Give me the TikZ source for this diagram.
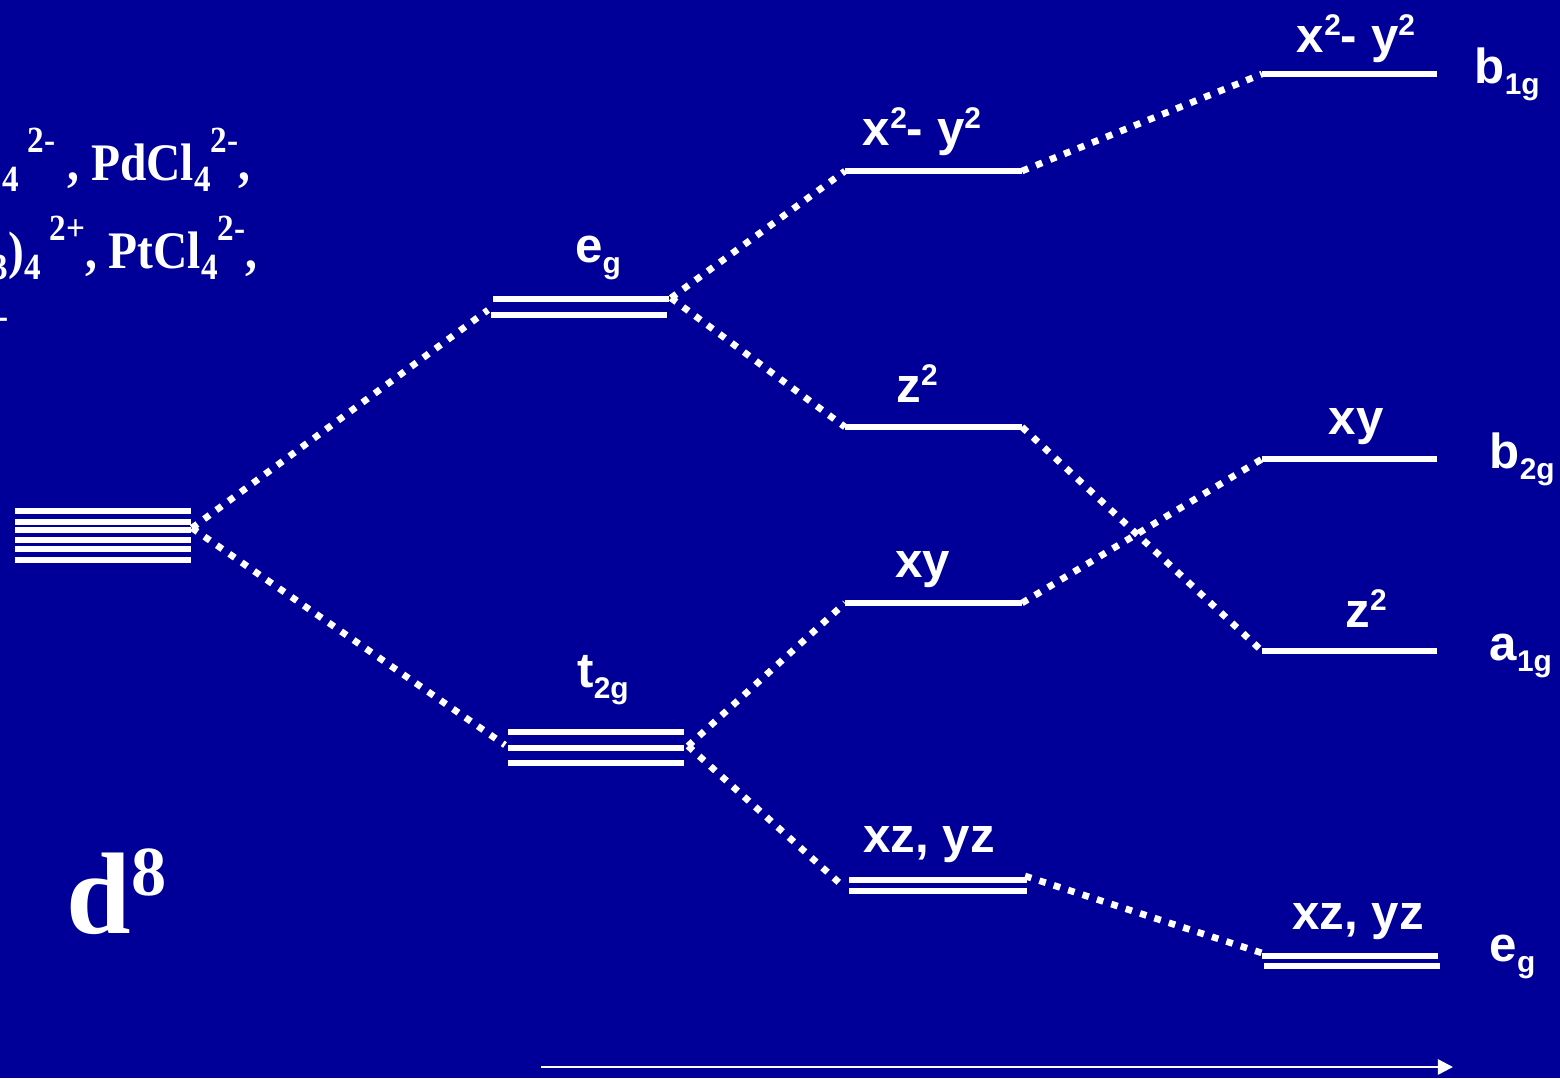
\documentclass[tikz,border=0pt]{standalone}
\usepackage{fontspec}
\setmainfont{Liberation Serif}
\newfontfamily\arialf{Liberation Sans}
\newfontfamily\timesn[FakeStretch=0.9]{Liberation Serif}
\usetikzlibrary{arrows.meta}
\definecolor{bgblue}{RGB}{0,0,153}
\newcommand\lsup[1]{\raisebox{4.6pt}{\fontsize{8.5}{9}\selectfont #1}}
\newcommand\lsub[1]{\raisebox{-3.2pt}{\fontsize{8.5}{9}\selectfont #1}}
\newcommand\tsup[1]{\raisebox{7.7pt}{\fontsize{10.5}{11}\selectfont #1}}
\newcommand\tsub[1]{\raisebox{-3.4pt}{\fontsize{10.5}{11}\selectfont #1}}
\begin{document}
\begin{tikzpicture}[x=0.01cm,y=-0.01cm,
 lvl/.style={draw=white, line width=1.7pt},
 conn/.style={draw=white, line width=1.9pt, dash pattern=on 1.9pt off 2.4pt},
 lab/.style={text=white, font=\arialf\bfseries\fontsize{14}{16}\selectfont, anchor=base, inner sep=0pt},
 sym/.style={lab, anchor=base west},
 cpd/.style={text=white, font=\timesn\bfseries\fontsize{15}{18}\selectfont, anchor=base east, inner sep=0pt}]
\fill[bgblue] (0,0) rectangle (1560,1078);
\clip (0,0) rectangle (1560,1078);

% compounds (partly cut off at the left edge)
\node[cpd] (cpd1) at (251,180) {Ni(CN)\tsub{4}\,\tsup{2-} , PdCl\tsub{4}\tsup{2-},};
\node[cpd] (cpd2) at (258,268) {Pt(NH\tsub{3})\tsub{4}\,\tsup{2+}, PtCl\tsub{4}\tsup{2-},};
\node[cpd] (cpd3) at (9,356) {AuCl\tsub{4}\tsup{-}};

% d8
\node[text=white, font=\bfseries\fontsize{33}{36}\selectfont, anchor=base west, inner sep=0pt] (d8) at (66,933) {d\raisebox{10.8pt}{\fontsize{20}{22}\selectfont 8}};

% free ion levels
\foreach \yy in {511,522,530,540,549,560} \draw[lvl] (15,\yy) -- (191,\yy);
\coordinate (fi-r) at (192,528);

% Oh eg
\coordinate (eg-l) at (488,310);
\coordinate (eg-r) at (671,298);
\draw[lvl] (493,299) -- (669,299);
\draw[lvl] (491,315) -- (667,315);
\node[lab] (lab-eg) at (598,262) {e\lsub{g}};

% Oh t2g
\coordinate (t2g-l) at (505,745);
\coordinate (t2g-r) at (688,746);
\draw[lvl] (508,732) -- (684,732);
\draw[lvl] (508,748) -- (684,748);
\draw[lvl] (508,763) -- (684,763);
\node[lab] (lab-t2g) at (603,687) {t\lsub{2g}};

% column 2
\coordinate (c2x-l) at (845,171);   \coordinate (c2x-r) at (1022,171);
\coordinate (c2z-l) at (845,427);   \coordinate (c2z-r) at (1022,427);
\coordinate (c2xy-l) at (845,603);  \coordinate (c2xy-r) at (1022,603);
\coordinate (c2e-l) at (845,888);   \coordinate (c2e-r) at (1025,876);
\draw[lvl] (c2x-l) -- (c2x-r);
\draw[lvl] (c2z-l) -- (c2z-r);
\draw[lvl] (c2xy-l) -- (c2xy-r);
\draw[lvl] (849,880) -- (1027,880);
\draw[lvl] (849,891) -- (1027,891);
\node[lab] (lab-c2x) at (922,145) {x\lsup{2}- y\lsup{2}};
\node[lab] (lab-c2z) at (917,402) {z\lsup{2}};
\node[lab] (lab-c2xy) at (923,577) {xy};
\node[lab] (lab-c2e) at (929,852) {xz, yz};

% column 3
\coordinate (c3x-l) at (1262,74);   \coordinate (c3x-r) at (1437,74);
\coordinate (c3xy-l) at (1262,459); \coordinate (c3xy-r) at (1437,459);
\coordinate (c3z-l) at (1262,651);  \coordinate (c3z-r) at (1437,651);
\coordinate (c3e-l) at (1262,953);
\draw[lvl] (c3x-l) -- (c3x-r);
\draw[lvl] (c3xy-l) -- (c3xy-r);
\draw[lvl] (c3z-l) -- (c3z-r);
\draw[lvl] (1262,956) -- (1438,956);
\draw[lvl] (1264,966) -- (1440,966);
\node[lab] (lab-c3x) at (1356,52) {x\lsup{2}- y\lsup{2}};
\node[lab] (lab-c3xy) at (1356,434) {xy};
\node[lab] (lab-c3z) at (1366,627) {z\lsup{2}};
\node[lab] (lab-c3e) at (1358,929) {xz, yz};

% symmetry labels
\node[sym] (s-b1g) at (1474,83) {b\lsub{1g}};
\node[sym] (s-b2g) at (1489,468) {b\lsub{2g}};
\node[sym] (s-a1g) at (1489,660) {a\lsub{1g}};
\node[sym] (s-eg) at (1489,961) {e\lsub{g}};

% connectors
\draw[conn] (fi-r) -- (eg-l);
\draw[conn] (fi-r) -- (t2g-l);
\draw[conn] (eg-r) -- (c2x-l);
\draw[conn] (eg-r) -- (c2z-l);
\draw[conn] (t2g-r) -- (c2xy-l);
\draw[conn] (t2g-r) -- (c2e-l);
\draw[conn] (c2x-r) -- (c3x-l);
\draw[conn] (c2z-r) -- (c3z-l);
\draw[conn] (c2xy-r) -- (c3xy-l);
\draw[conn] (c2e-r) -- (c3e-l);

% axis arrow
\coordinate (ar0) at (541,1067);
\coordinate (ar1) at (1453,1067);
\draw[white, line width=0.7pt, -{Triangle[length=4.3pt, width=4.3pt]}] (ar0) -- (ar1);
\end{tikzpicture}
\end{document}
